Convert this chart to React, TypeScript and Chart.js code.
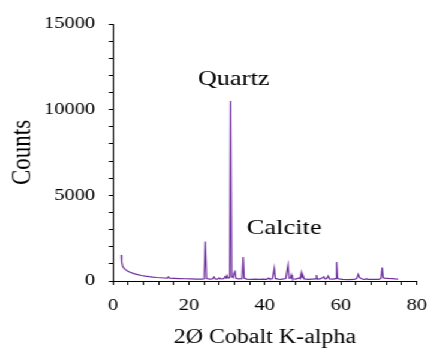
import React, { useEffect, useRef } from "react";
import { Chart, registerables } from "chart.js";

Chart.register(...registerables);

// Diffraction pattern: 2-theta angle (degrees, Co K-alpha) and detector counts
const twoTheta = [
  2.2, 2.3, 2.5, 2.8, 3.2, 3.8, 4.5, 5.5, 6.5, 7.5, 8.5, 9.5, 10.5, 11.5, 12.5, 13.5,
  14.3, 14.6, 14.9, 16.0, 17.5, 19.0, 20.5, 22.0, 23.5, 24.0, 24.3, 24.6, 25.5, 26.2,
  26.6, 26.9, 27.6, 28.0, 28.3, 29.2, 29.5, 29.8, 30.0, 30.3, 30.75, 31.0, 31.25, 31.6,
  31.9, 32.1, 32.35, 33.0, 34.0, 34.3, 34.55, 35.2, 36.5, 37.5, 38.5, 39.5, 40.5, 41.0,
  41.3, 42.0, 42.5, 42.75, 43.5, 44.3, 45.5, 46.1, 46.4, 46.8, 47.0, 47.25, 48.2, 49.0,
  49.3, 49.6, 49.85, 50.1, 50.35, 51.5, 52.5, 53.4, 53.6, 53.85, 54.6, 55.0, 55.5, 55.8,
  56.3, 56.7, 57.0, 58.0, 58.7, 58.9, 59.15, 59.5, 60.5, 62.0, 63.5, 64.2, 64.6, 64.9,
  65.3, 65.8, 66.4, 66.8, 67.1, 68.0, 69.0, 70.0, 70.6, 70.9, 71.15, 71.5, 72.5, 73.5,
  74.3, 75.1,
];

const counts = [
  1520, 1100, 880, 760, 680, 590, 510, 430, 370, 320, 280, 250, 225, 205, 190, 175,
  165, 240, 160, 150, 140, 130, 125, 115, 112, 130, 2300, 140, 110, 115,
  230, 120, 115, 180, 120, 130, 250, 180, 320, 160, 200, 10500, 260, 200,
  480, 620, 170, 120, 140, 1400, 170, 110, 100, 105, 100, 110, 100, 170,
  110, 130, 740, 150, 110, 100, 140, 930, 160, 180, 350, 130, 110, 180,
  130, 490, 200, 290, 120, 100, 110, 120, 350, 110, 120, 170, 250, 130,
  140, 290, 120, 110, 140, 1110, 180, 120, 90, 85, 90, 140, 390, 210,
  150, 110, 100, 130, 95, 90, 95, 100, 150, 780, 200, 170, 150, 140,
  120, 110,
];

// Phase labels and where they sit in data space
const phaseNames = ["Quartz", "Calcite"];
const phaseAt2Theta = [31.8, 45.1];
const phaseAtCounts = [11800, 3100];

const xTitle = "2Ø Cobalt K-alpha";
const yTitle = "Counts";

const SERIF = '"Liberation Serif", "Times New Roman", serif';
const LINE_COLOR = "#7030A0";

// The plot is laid out narrower and widened horizontally on screen
const BASE_W = 356;
const VIEW_W = 427;
const VIEW_H = 350;

const phaseLabels = {
  id: "phaseLabels",
  afterDatasetsDraw(chart: any) {
    const { ctx, scales } = chart;
    ctx.save();
    ctx.font = `22px ${SERIF}`;
    ctx.fillStyle = "#000";
    ctx.textAlign = "center";
    ctx.textBaseline = "middle";
    phaseNames.forEach((name, i) => {
      ctx.fillText(
        name,
        scales.x.getPixelForValue(phaseAt2Theta[i]),
        scales.y.getPixelForValue(phaseAtCounts[i])
      );
    });
    ctx.restore();
  },
};

function buildChart(canvas: HTMLCanvasElement) {
  return new Chart(canvas, {
    type: "line",
    data: {
      datasets: [
        {
          data: twoTheta.map((x, i) => ({ x, y: counts[i] })),
          borderColor: LINE_COLOR,
          borderWidth: 1.2,
          pointRadius: 0,
          tension: 0,
          fill: false,
        },
      ],
    },
    options: {
      animation: false,
      responsive: false,
      devicePixelRatio: 1,
      layout: { padding: { top: 24, right: 8.5, bottom: 0, left: 0 } },
      plugins: {
        legend: { display: false },
        tooltip: { enabled: false },
      },
      scales: {
        x: {
          type: "linear",
          min: 0,
          max: 80,
          ticks: {
            stepSize: 4,
            autoSkip: false,
            maxRotation: 0,
            color: "#000",
            padding: 10,
            font: { family: SERIF, size: 17 },
            callback: (v: any) => (Number(v) % 20 === 0 ? String(v) : ""),
          },
          grid: {
            display: true,
            drawOnChartArea: false,
            drawTicks: true,
            tickLength: 4,
            color: "#000",
          },
          border: { display: true, color: "#000", width: 1 },
          title: {
            display: true,
            text: xTitle,
            color: "#000",
            font: { family: SERIF, size: 20, lineHeight: 1 },
            padding: { top: 0, bottom: 2 },
          },
          afterFit: (s: any) => {
            s.height = 69;
            s.paddingLeft = 0;
            s.paddingRight = 0;
          },
        },
        y: {
          type: "linear",
          min: 0,
          max: 15000,
          ticks: {
            stepSize: 1000,
            autoSkip: false,
            color: "#000",
            padding: 11.5,
            font: { family: SERIF, size: 17 },
            callback: (v: any) => (Number(v) % 5000 === 0 ? String(v) : ""),
          },
          grid: {
            display: true,
            drawOnChartArea: false,
            drawTicks: true,
            tickLength: 3.5,
            color: "#000",
          },
          border: { display: true, color: "#000", width: 1 },
          title: {
            display: true,
            text: yTitle,
            color: "#000",
            font: { family: SERIF, size: 23, lineHeight: 1 },
            padding: { top: 7, bottom: 0 },
          },
          afterFit: (s: any) => {
            s.width = 94.2;
          },
        },
      },
    },
    plugins: [phaseLabels],
  });
}

export default function App() {
  const canvasRef = useRef<HTMLCanvasElement | null>(null);

  useEffect(() => {
    const canvas = canvasRef.current;
    if (!canvas) return;
    let chart: Chart | null = null;
    let cancelled = false;
    const fonts: any = (document as any).fonts;
    const ready = fonts
      ? Promise.all([
          fonts.load('17px "Liberation Serif"'),
          fonts.load('22px "Liberation Serif"'),
        ]).catch(() => null)
      : Promise.resolve(null);
    ready.then(() => {
      if (!cancelled) chart = buildChart(canvas);
    });
    return () => {
      cancelled = true;
      if (chart) chart.destroy();
    };
  }, []);

  return (
    <div
      style={{
        position: "fixed",
        left: 0,
        top: 0,
        width: BASE_W,
        height: VIEW_H,
        background: "#fff",
        transform: `scaleX(${VIEW_W / BASE_W})`,
        transformOrigin: "0 0",
      }}
    >
      <canvas
        ref={canvasRef}
        width={BASE_W}
        height={VIEW_H}
        style={{ display: "block", width: BASE_W, height: VIEW_H }}
      />
    </div>
  );
}
